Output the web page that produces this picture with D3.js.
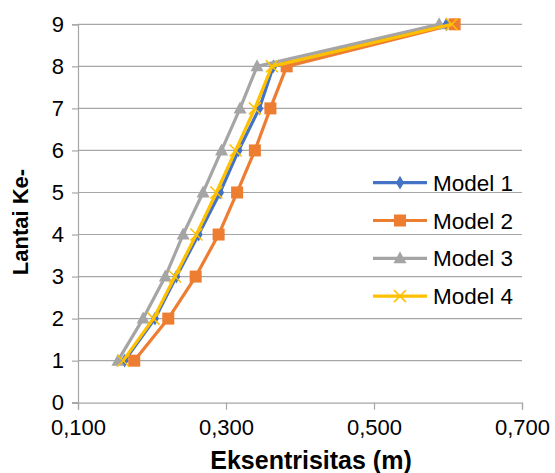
<!DOCTYPE html>
<html>
<head>
<meta charset="utf-8">
<script src="https://cdn.jsdelivr.net/npm/d3@7"></script>
<style>
  body { margin: 0; background: #fff; }
  svg { font-family: "Liberation Sans", Arial, sans-serif; }
</style>
</head>
<body>
<div id="chart"></div>
<script>
// floors (Lantai Ke-)
var levels = [1, 2, 3, 4, 5, 6, 7, 8, 9];
// eccentricity per floor (m)
var model1 = [0.163, 0.204, 0.233, 0.263, 0.292, 0.317, 0.345, 0.364, 0.598];
var model2 = [0.176, 0.222, 0.259, 0.290, 0.315, 0.339, 0.360, 0.382, 0.609];
var model3 = [0.154, 0.188, 0.218, 0.242, 0.269, 0.294, 0.319, 0.342, 0.588];
var model4 = [0.161, 0.202, 0.231, 0.260, 0.287, 0.313, 0.339, 0.362, 0.605];
var seriesNames = ["Model 1", "Model 2", "Model 3", "Model 4"];
var xTicks = [0.1, 0.3, 0.5, 0.7];
var yTicks = [0, 1, 2, 3, 4, 5, 6, 7, 8, 9];

function init(){
    var w = 555;
    var h = 473;
    var colors = ["#4472C4", "#ED7D31", "#A5A5A5", "#FFC000"];
    var markers = ["diamond", "square", "triangle", "cross"];

    var series = [model1, model2, model3, model4].map(function(vals, i){
        return {
            name: seriesNames[i],
            color: colors[i],
            marker: markers[i],
            points: vals.map(function(v, j){ return {x: v, y: levels[j]}; })
        };
    });

    var xScale = d3.scaleLinear().domain([0.1, 0.7]).range([78, 522]);
    var yScale = d3.scaleLinear().domain([0, 9]).range([402.7, 24.3]);

    var svg = d3.select("#chart")
                .append("svg")
                .attr("width", w)
                .attr("height", h);

    var fmt = function(d){ return d3.format(".3f")(d).replace(".", ","); };

    // horizontal gridlines
    svg.append("g")
        .selectAll("line")
        .data(yTicks.filter(function(d){ return d > 0; }))
        .enter()
        .append("line")
        .attr("x1", 78).attr("x2", 522)
        .attr("y1", function(d){ return yScale(d); })
        .attr("y2", function(d){ return yScale(d); })
        .attr("stroke", "#a6a6a6")
        .attr("stroke-width", 1.2);

    // y axis
    var yAxis = svg.append("g")
        .attr("transform", "translate(78,0)")
        .call(d3.axisLeft(yScale).tickValues(yTicks).tickSize(6).tickPadding(8).tickFormat(d3.format("d")));
    // x axis
    var xAxis = svg.append("g")
        .attr("transform", "translate(0," + yScale(0) + ")")
        .call(d3.axisBottom(xScale).tickValues(xTicks).tickSize(7).tickPadding(10).tickFormat(fmt));

    [yAxis, xAxis].forEach(function(a){
        a.select(".domain").attr("stroke", "#a6a6a6").attr("stroke-width", 1.2);
        a.selectAll(".tick line").attr("stroke", "#a6a6a6").attr("stroke-width", 1.2);
        a.selectAll(".tick text")
            .attr("fill", "#000")
            .style("font-size", "22px")
            .style("font-family", "'Liberation Sans', Arial, sans-serif");
    });
    // extend the x baseline left to meet the y ticks
    svg.append("line")
        .attr("x1", 72).attr("x2", 78)
        .attr("y1", yScale(0)).attr("y2", yScale(0))
        .attr("stroke", "#a6a6a6").attr("stroke-width", 1.2);

    // axis titles
    svg.append("text")
        .attr("x", 311)
        .attr("y", 469)
        .attr("text-anchor", "middle")
        .style("font-size", "25px")
        .style("font-weight", "bold")
        .text("Eksentrisitas (m)");

    svg.append("text")
        .attr("transform", "translate(28," + 222 + ") rotate(-90)")
        .attr("text-anchor", "middle")
        .style("font-size", "22px")
        .style("font-weight", "bold")
        .text("Lantai Ke-");

    var line = d3.line()
        .x(function(d){ return xScale(d.x); })
        .y(function(d){ return yScale(d.y); });

    function drawMarker(g, type, color, cx, cy){
        if (type === "diamond") {
            g.append("path")
                .attr("d", d3.symbol().type(d3.symbolDiamond).size(55)())
                .attr("transform", "translate(" + cx + "," + cy + ")")
                .attr("fill", color);
        } else if (type === "square") {
            g.append("rect")
                .attr("x", cx - 6).attr("y", cy - 6)
                .attr("width", 12).attr("height", 12)
                .attr("fill", color);
        } else if (type === "triangle") {
            g.append("path")
                .attr("d", "M" + cx + "," + (cy - 7) + "L" + (cx + 6.5) + "," + (cy + 5) + "L" + (cx - 6.5) + "," + (cy + 5) + "Z")
                .attr("fill", color);
        } else {
            g.append("path")
                .attr("d", "M" + (cx - 6) + "," + (cy - 6) + "L" + (cx + 6) + "," + (cy + 6) +
                           "M" + (cx + 6) + "," + (cy - 6) + "L" + (cx - 6) + "," + (cy + 6))
                .attr("stroke", color)
                .attr("stroke-width", 1.5)
                .attr("fill", "none");
        }
    }

    // series: line then markers, in order
    series.forEach(function(s){
        var g = svg.append("g");
        g.append("path")
            .datum(s.points)
            .attr("d", line)
            .attr("fill", "none")
            .attr("stroke", s.color)
            .attr("stroke-width", 3.2)
            .attr("stroke-linejoin", "round");
        s.points.forEach(function(p){
            drawMarker(g, s.marker, s.color, xScale(p.x), yScale(p.y));
        });
    });

    // legend
    var legend = svg.append("g");
    series.forEach(function(s, i){
        var ly = 182.7 + i * 37.8;
        legend.append("line")
            .attr("x1", 373).attr("x2", 427)
            .attr("y1", ly).attr("y2", ly)
            .attr("stroke", s.color)
            .attr("stroke-width", 3.2);
        drawMarker(legend, s.marker, s.color, 400, ly);
        legend.append("text")
            .attr("x", 433)
            .attr("y", ly + 8)
            .style("font-size", "22.5px")
            .attr("fill", "#000")
            .text(s.name);
    });
}

window.onload = init;
</script>
</body>
</html>
